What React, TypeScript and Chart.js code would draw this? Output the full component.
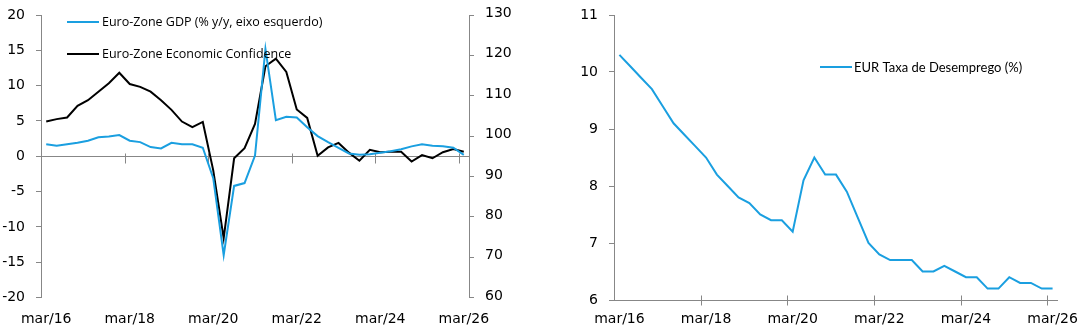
import { useEffect, useRef } from "react";
import { Chart, registerables } from "chart.js";

Chart.register(...registerables);

const quarters = [
  "mar/16", "jun/16", "set/16", "dez/16",
  "mar/17", "jun/17", "set/17", "dez/17",
  "mar/18", "jun/18", "set/18", "dez/18",
  "mar/19", "jun/19", "set/19", "dez/19",
  "mar/20", "jun/20", "set/20", "dez/20",
  "mar/21", "jun/21", "set/21", "dez/21",
  "mar/22", "jun/22", "set/22", "dez/22",
  "mar/23", "jun/23", "set/23", "dez/23",
  "mar/24", "jun/24", "set/24", "dez/24",
  "mar/25", "jun/25", "set/25", "dez/25",
  "mar/26",
];

const shownTickLabels = ["mar/16", "mar/18", "mar/20", "mar/22", "mar/24", "mar/26"];

const gdpYoY = [
  1.7, 1.5, 1.7, 1.9, 2.2, 2.7, 2.8, 3.0,
  2.2, 2.0, 1.3, 1.1, 1.9, 1.7, 1.7, 1.2,
  -3.1, -14.0, -4.2, -3.8, 0.1, 15.2, 5.1, 5.6,
  5.5, 4.1, 2.85, 2.0, 1.2, 0.4, 0.2, 0.3,
  0.5, 0.7, 1.0, 1.4, 1.7, 1.5, 1.4, 1.2,
  0.2,
];

const economicConfidence = [
  103.6, 104.2, 104.6, 107.5, 108.9, 111.0, 113.1, 115.7,
  112.9, 112.2, 111.0, 108.9, 106.5, 103.6, 102.2, 103.5,
  91.5, 74.7, 94.5, 97.0, 103.0, 117.3, 119.2, 115.9,
  106.6, 104.5, 95.1, 97.2, 98.3, 95.9, 93.9, 96.6,
  96.0, 96.1, 96.1, 93.7, 95.3, 94.5, 96.0, 96.8,
  96.1,
];

const unemployment = [
  10.3, 10.1, 9.9, 9.7, 9.4, 9.1, 8.9, 8.7,
  8.5, 8.2, 8.0, 7.8, 7.7, 7.5, 7.4, 7.4,
  7.2, 8.1, 8.5, 8.2, 8.2, 7.9, 7.45, 7.0,
  6.8, 6.7, 6.7, 6.7, 6.5, 6.5, 6.6, 6.5,
  6.4, 6.4, 6.2, 6.2, 6.4, 6.3, 6.3, 6.2,
  6.2,
];

const gdpTicks = [-20, -15, -10, -5, 0, 5, 10, 15, 20];
const confTicks = [60, 70, 80, 90, 100, 110, 120, 130];
const unempTicks = [6, 7, 8, 9, 10, 11];

const BLUE = "#1a9fe0";
const BLACK = "#000000";
const AXIS = "#878787";
const TICK_FONT = { family: "DejaVu Sans", size: 14 };

const crossAxisPlugin = {
  id: "crossAxis",
  beforeDatasetsDraw(chart: any, _args: any, opts: any) {
    const { ctx, chartArea } = chart;
    const yScale = chart.scales[opts.yScale];
    const xScale = chart.scales.x;
    const y = Math.round(yScale.getPixelForValue(opts.atValue)) + 0.5;
    ctx.save();
    ctx.strokeStyle = AXIS;
    ctx.lineWidth = 1;
    ctx.beginPath();
    ctx.moveTo(chartArea.left, y);
    ctx.lineTo(chartArea.right, y);
    const n = chart.data.labels.length;
    for (let i = opts.every; i < n; i += opts.every) {
      const px = Math.round((xScale.getPixelForValue(i - 1) + xScale.getPixelForValue(i)) / 2) + 0.5;
      ctx.moveTo(px, y - opts.up);
      ctx.lineTo(px, y + opts.down);
    }
    ctx.stroke();
    ctx.restore();
  },
};

const manualLegendPlugin = {
  id: "manualLegend",
  afterDraw(chart: any, _args: any, opts: any) {
    const { ctx } = chart;
    ctx.save();
    opts.items.forEach((it: any) => {
      const ds = chart.data.datasets[it.index];
      ctx.strokeStyle = ds.borderColor;
      ctx.lineWidth = 2;
      ctx.beginPath();
      ctx.moveTo(it.x, it.y);
      ctx.lineTo(it.x + opts.lineLength, it.y);
      ctx.stroke();
      ctx.fillStyle = "#000";
      ctx.font = opts.font;
      ctx.textBaseline = "middle";
      ctx.textAlign = "left";
      ctx.fillText(ds.label, it.x + opts.lineLength + opts.gap, it.y + 0.5);
    });
    ctx.restore();
  },
};

function xScaleOptions(height: number, padding: number) {
  return {
    type: "category" as const,
    offset: true,
    grid: { display: false, drawTicks: false },
    border: { display: false },
    ticks: {
      autoSkip: false,
      maxRotation: 0,
      minRotation: 0,
      padding,
      color: "#000",
      font: TICK_FONT,
      callback: (_v: any, i: number) =>
        shownTickLabels.includes(quarters[i]) ? quarters[i] : "",
    },
    afterFit: (s: any) => {
      s.height = height;
      s.paddingLeft = 0;
      s.paddingRight = 0;
    },
  };
}

function yFit(width: number) {
  return (s: any) => {
    s.width = width;
    s.paddingTop = 0;
    s.paddingBottom = 0;
  };
}

function LeftChart() {
  const ref = useRef<HTMLCanvasElement>(null);
  useEffect(() => {
    const chart = new Chart(ref.current!, {
      type: "line",
      data: {
        labels: quarters,
        datasets: [
          {
            label: "Euro-Zone GDP (% y/y, eixo esquerdo)",
            data: gdpYoY,
            borderColor: BLUE,
            backgroundColor: BLUE,
            borderWidth: 2,
            pointRadius: 0,
            tension: 0,
            yAxisID: "y",
          },
          {
            label: "Euro-Zone Economic Confidence",
            data: economicConfidence,
            borderColor: BLACK,
            backgroundColor: BLACK,
            borderWidth: 2,
            pointRadius: 0,
            tension: 0,
            yAxisID: "y1",
          },
        ],
      },
      options: {
        animation: false,
        responsive: false,
        events: [],
        layout: { padding: { top: 15, left: 0, right: 0, bottom: 0 } },
        plugins: {
          legend: { display: false },
          tooltip: { enabled: false },
          crossAxis: { yScale: "y", atValue: 0, every: 8, up: 3, down: 7 },
          manualLegend: {
            lineLength: 32,
            gap: 3,
            font: "12.5px 'Open Sans'",
            items: [
              { index: 0, x: 67, y: 22 },
              { index: 1, x: 67, y: 54 },
            ],
          },
        } as any,
        scales: {
          x: xScaleOptions(36.5, 13),
          y: {
            position: "left",
            min: -20,
            max: 20,
            afterBuildTicks: (s: any) => {
              s.ticks = gdpTicks.map((v) => ({ value: v }));
            },
            grid: { drawOnChartArea: false, tickLength: 5, color: AXIS },
            border: { color: AXIS },
            ticks: { padding: 11, color: "#000", font: TICK_FONT },
            afterFit: yFit(41),
          },
          y1: {
            position: "right",
            min: 60,
            max: 130,
            afterBuildTicks: (s: any) => {
              s.ticks = confTicks.map((v) => ({ value: v }));
            },
            grid: { drawOnChartArea: false, tickLength: 5, color: AXIS },
            border: { color: AXIS },
            ticks: { padding: 11, labelOffset: -1.5, color: "#000", font: TICK_FONT },
            afterFit: yFit(71),
          },
        } as any,
      },
      plugins: [crossAxisPlugin, manualLegendPlugin],
    });
    return () => chart.destroy();
  }, []);
  return <canvas ref={ref} width={540} height={334} />;
}

function RightChart() {
  const ref = useRef<HTMLCanvasElement>(null);
  useEffect(() => {
    const chart = new Chart(ref.current!, {
      type: "line",
      data: {
        labels: quarters,
        datasets: [
          {
            label: "EUR Taxa de Desemprego (%)",
            data: unemployment,
            borderColor: BLUE,
            backgroundColor: BLUE,
            borderWidth: 2,
            pointRadius: 0,
            tension: 0,
          },
        ],
      },
      options: {
        animation: false,
        responsive: false,
        events: [],
        layout: { padding: { top: 15, left: 0, right: 23, bottom: 0 } },
        plugins: {
          legend: { display: false },
          tooltip: { enabled: false },
          crossAxis: { yScale: "y", atValue: 6, every: 8, up: 5, down: 5 },
          manualLegend: {
            lineLength: 32,
            gap: 2,
            font: "13px Lato",
            items: [{ index: 0, x: 280, y: 67 }],
          },
        } as any,
        scales: {
          x: xScaleOptions(34, 10.5),
          y: {
            position: "left",
            min: 6,
            max: 11,
            afterBuildTicks: (s: any) => {
              s.ticks = unempTicks.map((v) => ({ value: v }));
            },
            grid: { drawOnChartArea: false, tickLength: 5, color: AXIS },
            border: { color: AXIS },
            ticks: { padding: 11, color: "#000", font: TICK_FONT },
            afterFit: yFit(74),
          },
        } as any,
      },
      plugins: [crossAxisPlugin, manualLegendPlugin],
    });
    return () => chart.destroy();
  }, []);
  return <canvas ref={ref} width={541} height={334} />;
}

export default function App() {
  return (
    <div
      style={{
        position: "fixed",
        left: 0,
        top: 0,
        width: 1081,
        height: 334,
        background: "#fff",
      }}
    >
      <div style={{ position: "absolute", left: 0, top: 0, width: 540, height: 334 }}>
        <LeftChart />
      </div>
      <div style={{ position: "absolute", left: 540, top: 0, width: 541, height: 334 }}>
        <RightChart />
      </div>
    </div>
  );
}
